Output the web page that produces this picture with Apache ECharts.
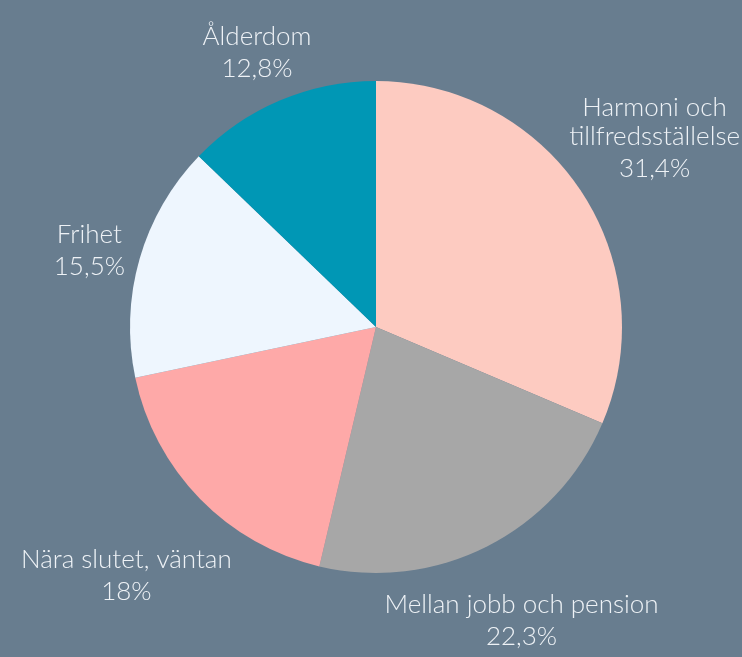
<!DOCTYPE html>
<html>
<head>
<meta charset="utf-8">
<script src="https://cdn.jsdelivr.net/npm/echarts@6/dist/echarts.min.js"></script>
<style>
html,body{margin:0;padding:0;background:#687d8f;}
#chart{width:742px;height:657px;}
</style>
</head>
<body>
<div id="chart"></div>
<script>
var categories = ['Harmoni och\ntillfredsställelse', 'Mellan jobb och pension', 'Nära slutet, väntan', 'Frihet', 'Ålderdom'];
var values = [31.4, 22.3, 18, 15.5, 12.8];
var percentLabels = ['31,4%', '22,3%', '18%', '15,5%', '12,8%'];
var colors = ['#fdcbc1', '#a7a7a7', '#fea9a8', '#eef6fe', '#0097b5'];

var W = 742, H = 657;
var CX = 376, CY = 327, R = 246, GAP = 10, DY = 7;
var FONT = 'Lato', FS = 26;

var total = values.reduce(function(a, b){ return a + b; }, 0);
var midAngles = [];
(function(){
  var cum = 0;
  for (var i = 0; i < values.length; i++) {
    var mid = (cum + values[i] / 2) / total * 2 * Math.PI;
    midAngles.push(mid);
    cum += values[i];
  }
})();

function placeLabel(params) {
  var a = midAngles[params.dataIndex];
  var ux = Math.sin(a), uy = -Math.cos(a);
  var hw = params.labelRect.width / 2, hh = params.labelRect.height / 2;
  var target = R + GAP;
  var lo = 0, hi = 1000;
  for (var k = 0; k < 60; k++) {
    var t = (lo + hi) / 2;
    var cx = t * ux, cy = t * uy;
    var nx = Math.max(cx - hw, Math.min(0, cx + hw));
    var ny = Math.max(cy - hh, Math.min(0, cy + hh));
    var d = Math.sqrt(nx * nx + ny * ny);
    if (d < target) lo = t; else hi = t;
  }
  var t2 = (lo + hi) / 2;
  var x = CX + t2 * ux;
  x = Math.min(W - 2 - hw, Math.max(2 + hw, x));
  return { x: x, y: CY + t2 * uy + DY, align: 'center', verticalAlign: 'middle' };
}

var data = categories.map(function(c, i){
  return { name: c, value: values[i], itemStyle: { color: colors[i] } };
});

var chart = echarts.init(document.getElementById('chart'), null, { renderer: 'canvas' });
chart.setOption({
  backgroundColor: '#687d8f',
  animation: false,
  series: [{
    type: 'pie',
    center: [CX, CY],
    radius: [0, R],
    startAngle: 90,
    clockwise: true,
    data: data,
    label: {
      show: true,
      position: 'outside',
      overflow: 'none',
      edgeDistance: 0,
      color: '#eef2f6',
      fontFamily: FONT,
      fontSize: FS,
      fontWeight: 300,
      lineHeight: 30,
      align: 'center',
      formatter: function(p){ return '{n|' + p.name.split('\n').join('}\n{n|') + '}\n{p|' + percentLabels[p.dataIndex] + '}'; },
      rich: {
        n: { color: '#eef2f6', fontFamily: FONT, fontSize: FS, fontWeight: 300, lineHeight: 29, align: 'center' },
        p: { color: '#eef2f6', fontFamily: FONT, fontSize: FS, fontWeight: 300, lineHeight: 35, align: 'center' }
      }
    },
    labelLine: { show: false, length: 10, length2: 0 },
    labelLayout: placeLabel,
    emphasis: { disabled: true }
  }]
});
</script>
</body>
</html>
